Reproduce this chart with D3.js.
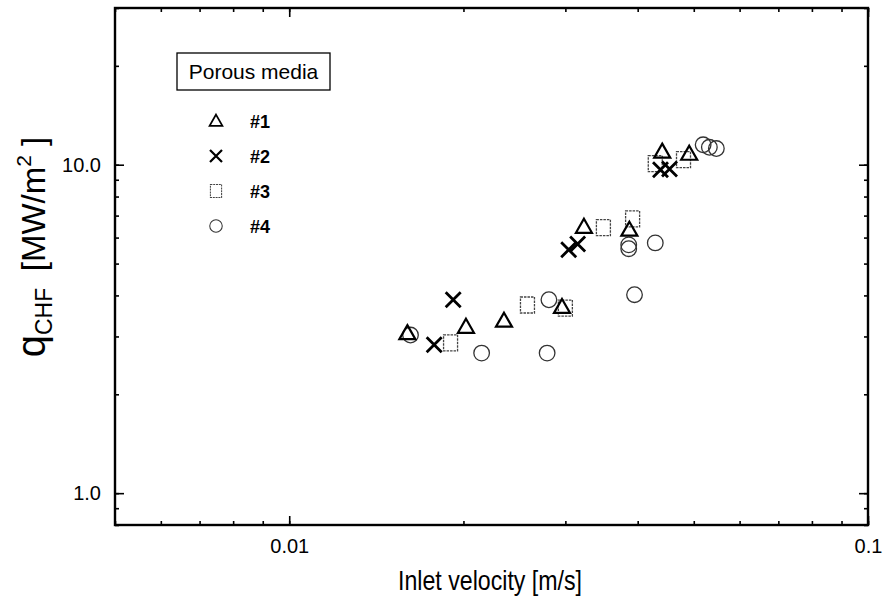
<!DOCTYPE html>
<html>
<head>
<meta charset="utf-8">
<script src="https://cdn.jsdelivr.net/npm/d3@7"></script>
<style>
  html, body { margin: 0; padding: 0; background: #fff; }
  svg { display: block; font-family: "Liberation Sans", Arial, sans-serif; }
</style>
</head>
<body>
<svg id="chart" width="887" height="607"></svg>
<script>
// Inlet velocity [m/s] and critical heat flux [MW/m2] for each porous medium
const media = ["#1", "#2", "#3", "#4"];
const velocity1 = [0.0160, 0.0202, 0.0235, 0.0296, 0.0323, 0.0387, 0.0441, 0.0491];
const chf1      = [3.07,   3.21,   3.35,   3.69,   6.47,   6.34,   10.96,  10.8];
const velocity2 = [0.0178, 0.0192, 0.0304, 0.0315, 0.0438, 0.0454];
const chf2      = [2.83,   3.88,   5.51,   5.74,   9.66,   9.7];
const velocity3 = [0.0190, 0.0258, 0.0300, 0.0349, 0.0392, 0.0429, 0.0480];
const chf3      = [2.87,   3.74,   3.66,   6.43,   6.84,   10.07,  10.36];
const velocity4 = [0.0162, 0.0215, 0.0279, 0.0281, 0.0386, 0.0386, 0.0395, 0.0429, 0.0519, 0.0532, 0.0547];
const chf4      = [3.03,   2.67,   2.67,   3.88,   5.55,   5.70,   4.02,   5.78,   11.5,   11.3,   11.2];

const xTickValues = [0.01, 0.1];
const yTickValues = [1, 10];
const xDomain = [0.005, 0.1];
const yDomain = [0.8, 30];

const svg = d3.select("#chart");
const plotLeft = 115, plotRight = 868, plotTop = 8, plotBottom = 525;

const x = d3.scaleLog().domain(xDomain).range([plotLeft, plotRight]);
const y = d3.scaleLog().domain(yDomain).range([plotBottom, plotTop]);

// minor ticks: every integer multiple within each decade
function logMinor(domain) {
  const out = [];
  for (let e = -4; e <= 3; e++) {
    for (let m = 1; m <= 9; m++) {
      const v = m * Math.pow(10, e);
      if (v >= domain[0] * 0.9999 && v <= domain[1] * 1.0001) out.push(+v.toPrecision(6));
    }
  }
  return out;
}
const xMinor = logMinor(xDomain);
const yMinor = logMinor(yDomain);

const axes = svg.append("g");

// bottom and top
axes.append("g").attr("transform", `translate(0,${plotBottom})`)
  .call(d3.axisBottom(x).tickValues(xMinor).tickFormat("").tickSizeInner(-4).tickSizeOuter(0));
axes.append("g").attr("transform", `translate(0,${plotTop})`)
  .call(d3.axisTop(x).tickValues(xMinor).tickFormat("").tickSizeInner(-4).tickSizeOuter(0));
axes.append("g").attr("class", "xmajor").attr("transform", `translate(0,${plotBottom})`)
  .call(d3.axisBottom(x).tickValues(xTickValues).tickFormat(d3.format("")).tickSizeInner(-9).tickSizeOuter(0).tickPadding(14));
axes.append("g").attr("transform", `translate(0,${plotTop})`)
  .call(d3.axisTop(x).tickValues(xTickValues).tickFormat("").tickSizeInner(-9).tickSizeOuter(0));

// left and right
axes.append("g").attr("transform", `translate(${plotLeft},0)`)
  .call(d3.axisLeft(y).tickValues(yMinor).tickFormat("").tickSizeInner(-4).tickSizeOuter(0));
axes.append("g").attr("transform", `translate(${plotRight},0)`)
  .call(d3.axisRight(y).tickValues(yMinor).tickFormat("").tickSizeInner(-4).tickSizeOuter(0));
axes.append("g").attr("class", "ymajor").attr("transform", `translate(${plotLeft},0)`)
  .call(d3.axisLeft(y).tickValues(yTickValues).tickFormat(d3.format(".1f")).tickSizeInner(-9).tickSizeOuter(0).tickPadding(14));
axes.append("g").attr("transform", `translate(${plotRight},0)`)
  .call(d3.axisRight(y).tickValues(yTickValues).tickFormat("").tickSizeInner(-9).tickSizeOuter(0));

axes.selectAll(".domain").remove();
axes.selectAll("line").attr("stroke", "#000").attr("stroke-width", 1.6);
axes.selectAll("text").attr("fill", "#000").style("font-size", "20px")
  .style("font-family", "'Liberation Sans', Arial, sans-serif");

// frame
svg.append("rect")
  .attr("x", plotLeft).attr("y", plotTop)
  .attr("width", plotRight - plotLeft).attr("height", plotBottom - plotTop)
  .attr("fill", "none").attr("stroke", "#000").attr("stroke-width", 2.4);

// axis titles
svg.append("text")
  .attr("x", 490).attr("y", 590)
  .attr("text-anchor", "middle")
  .attr("textLength", 184).attr("lengthAdjust", "spacingAndGlyphs")
  .style("font-size", "28px")
  .text("Inlet velocity [m/s]");

const yTitle = svg.append("text")
  .attr("transform", "translate(45,247) rotate(-90)")
  .attr("text-anchor", "middle")
  .style("font-size", "33px");
yTitle.append("tspan").style("font-size", "40px").text("q");
yTitle.append("tspan").attr("dy", 7).style("font-size", "23px").text("CHF");
yTitle.append("tspan").attr("dy", -7).text("\u2002[MW/m");
yTitle.append("tspan").attr("dy", -14).style("font-size", "21px").text("2");
yTitle.append("tspan").attr("dy", 14).text(" ]");

// marker shapes
const markers = {
  "#1": sel => sel.append("path").attr("d", "M0,-8 L8,6 L-8,6 Z")
    .attr("fill", "none").attr("stroke", "#000").attr("stroke-width", 2.2).attr("stroke-linejoin", "miter"),
  "#2": sel => sel.append("path").attr("d", "M-7.5,-7.5 L7.5,7.5 M-7.5,7.5 L7.5,-7.5")
    .attr("fill", "none").attr("stroke", "#000").attr("stroke-width", 2.8),
  "#3": sel => sel.append("rect").attr("x", -7).attr("y", -8).attr("width", 14).attr("height", 16)
    .attr("fill", "none").attr("stroke", "#444").attr("stroke-width", 1.3).attr("stroke-dasharray", "2.5,1"),
  "#4": sel => sel.append("circle").attr("r", 7.8)
    .attr("fill", "none").attr("stroke", "#333").attr("stroke-width", 1.3)
};

const seriesData = [
  { name: "#4", v: velocity4, q: chf4 },
  { name: "#3", v: velocity3, q: chf3 },
  { name: "#1", v: velocity1, q: chf1 },
  { name: "#2", v: velocity2, q: chf2 }
];

const plot = svg.append("g");
seriesData.forEach(s => {
  const pts = s.v.map((v, i) => ({ v, q: s.q[i] }));
  plot.append("g").selectAll("g").data(pts).join("g")
    .attr("transform", d => `translate(${x(d.v)},${y(d.q)})`)
    .each(function () { markers[s.name](d3.select(this)); });
});

// legend
const legend = svg.append("g");
legend.append("rect")
  .attr("x", 177).attr("y", 53).attr("width", 153).attr("height", 37)
  .attr("fill", "#fff").attr("stroke", "#000").attr("stroke-width", 1.3);
legend.append("text")
  .attr("x", 253.5).attr("y", 79).attr("text-anchor", "middle")
  .style("font-size", "21px").text("Porous media");

const rowY = d3.scalePoint().domain(media).range([121, 226]);
media.forEach(m => {
  const g = legend.append("g").attr("transform", `translate(216,${rowY(m)})`);
  markers[m](g);
  g.select("*").attr("transform", "scale(0.8)");
  legend.append("text")
    .attr("x", 250).attr("y", rowY(m) + 7)
    .style("font-size", "18px").style("font-weight", "bold")
    .text(m);
});
</script>
</body>
</html>
